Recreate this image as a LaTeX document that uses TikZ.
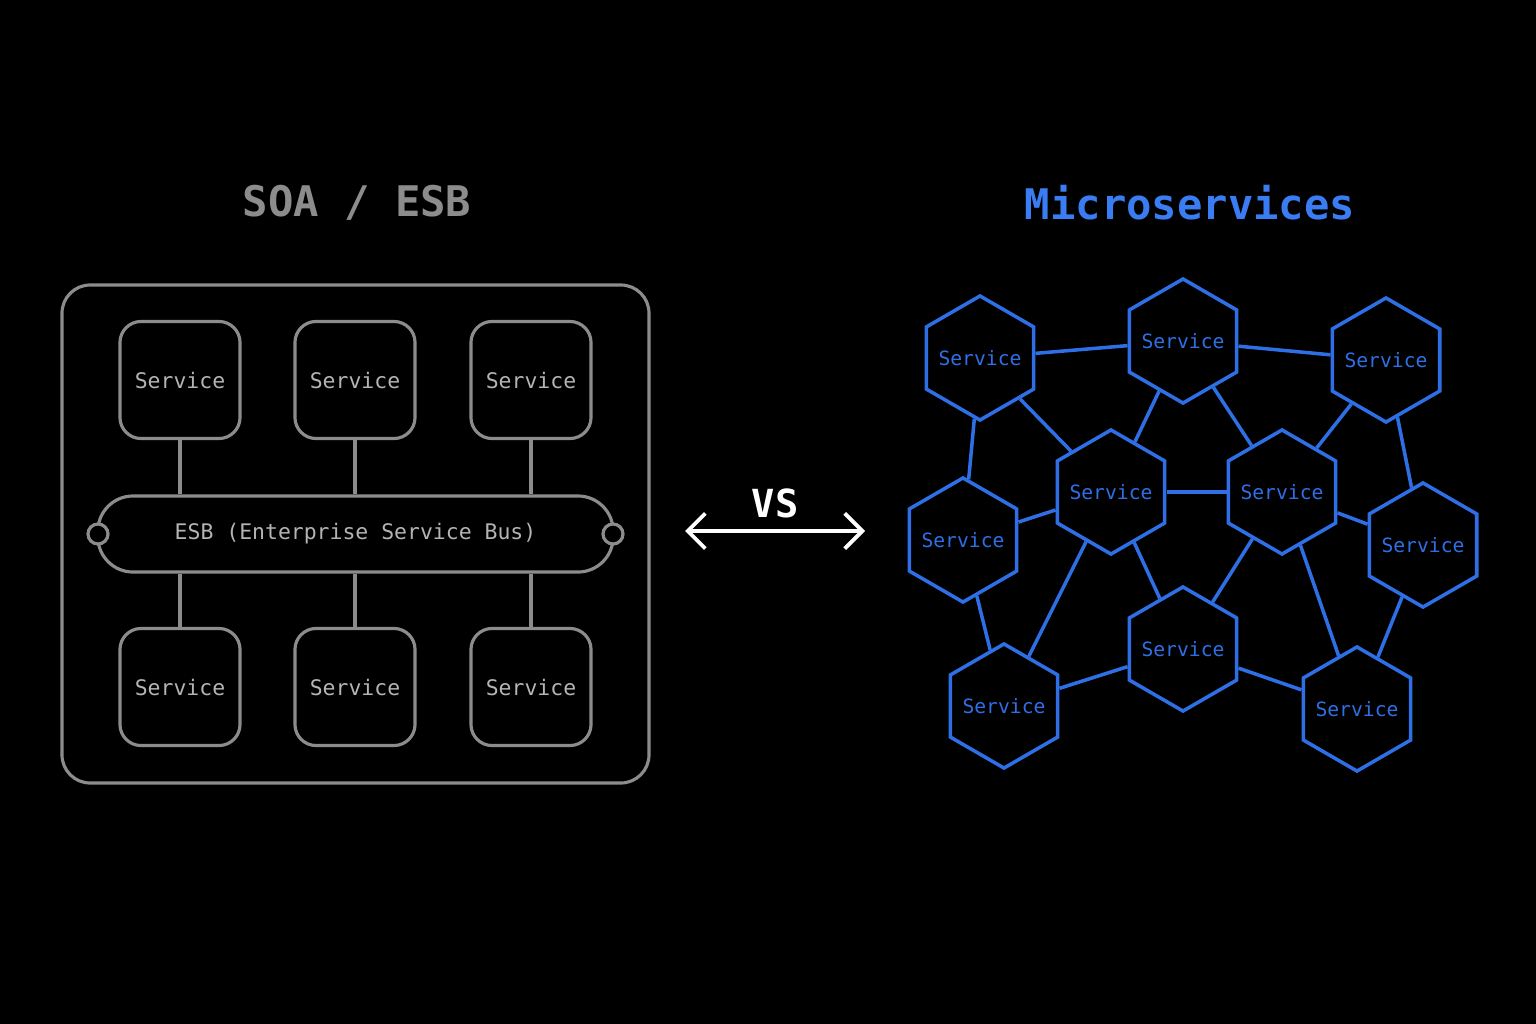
\documentclass[tikz,border=0pt]{standalone}
\usepackage{fontspec}
\setmonofont{DejaVu Sans Mono}
\usetikzlibrary{positioning, arrows.meta, shapes.geometric}
\definecolor{soagray}{HTML}{8C8C8C}
\definecolor{soatext}{HTML}{B4B4B4}
\definecolor{msblue}{HTML}{2F6FE6}
\definecolor{mstitle}{HTML}{3A7CF2}
\begin{document}
\begin{tikzpicture}[x=0.01cm, y=-0.01cm]
		\tikzset{
			>=Stealth,
			svcbox/.style={draw=soagray, line width=0.9pt, rounded corners=6pt, minimum width=1.2cm, minimum height=1.17cm, text=soatext, font=\ttfamily\fontsize{6.1}{8}\selectfont},
			hexnode/.style={draw=msblue, line width=1pt, regular polygon, regular polygon sides=6, shape border rotate=30, minimum size=1.24cm, inner sep=0pt,
				label={[text=msblue, font=\ttfamily\fontsize{5.6}{7}\selectfont]center:Service}},
			link/.style={draw=soagray, line width=0.9pt},
			mslink/.style={draw=msblue, line width=1pt}
		}
		\fill[black] (0,0) rectangle (1536,1024);
		
		% Titles
		\node[text=soagray, font=\ttfamily\bfseries\fontsize{12}{14}\selectfont] (soatitle) at (357,203) {SOA / ESB};
		\node[text=mstitle, font=\ttfamily\bfseries\fontsize{12}{14}\selectfont] (mstitle) at (1190,203) {Microservices};
		
		% SOA frame
		\draw[soagray, line width=0.9pt, rounded corners=8pt] (62,285) rectangle (649,783);
		
		% Bus
		\node[draw=soagray, line width=0.9pt, rounded corners=10pt, minimum width=5.15cm, minimum height=0.76cm, text=soatext, font=\ttfamily\fontsize{6.1}{8}\selectfont] (esb) at (355.5,534) {ESB (Enterprise Service Bus)};
		\node[draw=soagray, line width=0.9pt, fill=black, circle, minimum size=0.2cm, inner sep=0pt] (plugl) at (98,534) {};
		\node[draw=soagray, line width=0.9pt, fill=black, circle, minimum size=0.2cm, inner sep=0pt] (plugr) at (613,534) {};
		
		% Services
		\foreach \i/\x in {1/180,2/355,3/531} {
			\node[svcbox] (top\i) at (\x,380) {Service};
			\node[svcbox] (bot\i) at (\x,687) {Service};
			\draw[link] (top\i) -- (top\i |- esb.north);
			\draw[link] (bot\i) -- (bot\i |- esb.south);
		}
		
		% VS
		\node[text=white, font=\ttfamily\bfseries\fontsize{11}{13}\selectfont] (vs) at (775,503) {VS};
		\coordinate (vsl) at (685,531);
		\coordinate (vsr) at (865,531);
		\draw[white, line width=1.1pt, {Straight Barb[length=5pt,width=10pt]}-{Straight Barb[length=5pt,width=10pt]}] (vsl) -- (vsr);
		
		% Microservices
		\foreach \n/\x/\y in {a/980/358, b/1183/341, c/1386/360, d/1111/492, e/1282/492, f/963/540, g/1423/545, h/1183/649, i/1004/706, j/1357/709}
			\node[hexnode] (\n) at (\x,\y) {};
		
		\foreach \p/\q in {a/b, b/c, a/d, a/f, b/d, b/e, c/e, c/g, d/e, d/f, d/h, d/i, e/h, e/g, e/j, f/i, h/i, h/j, g/j}
			\draw[mslink] (\p) -- (\q);
		
	\end{tikzpicture}
\end{document}
